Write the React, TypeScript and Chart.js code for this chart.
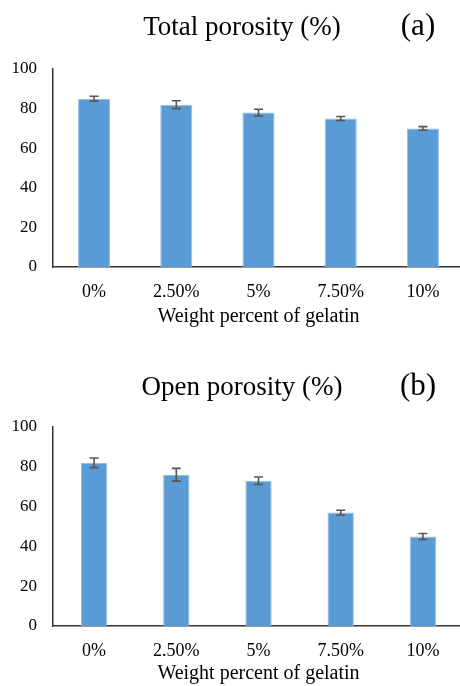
import React, { useEffect, useRef } from "react";
import { Chart, registerables } from "chart.js";

Chart.register(...registerables);

const categories = ["0%", "2.50%", "5%", "7.50%", "10%"];
const totalPorosity = [85, 82, 78, 75, 70];
const totalPorosityErr = [1.2, 2.0, 1.7, 1.0, 0.9];
const openPorosity = [82, 76, 73, 57, 45];
const openPorosityErr = [2.4, 3.2, 1.9, 1.2, 1.5];
const yTicks = [0, 20, 40, 60, 80, 100];

const FONT = "'Liberation Serif', 'Times New Roman', serif";

type Cfg = {
  values: number[];
  errors: number[];
  title: string;
  tag: string;
  height: number;
  padTop: number;
  xHeight: number;
  titleY: number;
  barPct: number;
};

function makeChart(canvas: HTMLCanvasElement, cfg: Cfg) {
  const errorBars = {
    id: "errorBars",
    afterDatasetsDraw(chart: any) {
      const ctx = chart.ctx;
      const meta = chart.getDatasetMeta(0);
      const y = chart.scales.y;
      ctx.save();
      ctx.strokeStyle = "#555555";
      ctx.lineWidth = 1.6;
      meta.data.forEach((bar: any, i: number) => {
        const v = cfg.values[i];
        const e = cfg.errors[i];
        const yt = y.getPixelForValue(v + e);
        const yb = y.getPixelForValue(v - e);
        const x = bar.x;
        ctx.beginPath();
        ctx.moveTo(x, yt);
        ctx.lineTo(x, yb);
        ctx.moveTo(x - 4.5, yt);
        ctx.lineTo(x + 4.5, yt);
        ctx.moveTo(x - 4.5, yb);
        ctx.lineTo(x + 4.5, yb);
        ctx.stroke();
      });
      ctx.restore();
    },
  };
  const titles = {
    id: "titles",
    afterDraw(chart: any) {
      const ctx = chart.ctx;
      ctx.save();
      ctx.fillStyle = "#000";
      ctx.textAlign = "center";
      ctx.textBaseline = "middle";
      ctx.font = `27px ${FONT}`;
      ctx.fillText(cfg.title, 242, cfg.titleY);
      ctx.font = `31px ${FONT}`;
      ctx.fillText(cfg.tag, 418, cfg.titleY - 1);
      ctx.restore();
    },
  };
  return new Chart(canvas, {
    type: "bar",
    data: {
      labels: categories,
      datasets: [
        {
          data: cfg.values,
          backgroundColor: "#5B9BD5",
          borderColor: "#8FBCE6",
          borderWidth: 1,
          barPercentage: cfg.barPct,
          categoryPercentage: 1,
        },
      ],
    },
    options: {
      animation: false,
      responsive: false,
      maintainAspectRatio: false,
      layout: { padding: { top: cfg.padTop, left: 0, right: 0, bottom: 0 } },
      plugins: {
        legend: { display: false },
        title: { display: false },
        tooltip: { enabled: false },
      },
      scales: {
        x: {
          grid: { display: false, drawTicks: false },
          border: { display: true, color: "#333333", width: 1.5 },
          ticks: {
            font: { family: FONT, size: 18 },
            color: "#000",
            padding: 14,
          },
          title: {
            display: true,
            text: "Weight percent of gelatin",
            font: { family: FONT, size: 20 },
            color: "#000",
            padding: { top: 0, bottom: 0 },
          },
          afterFit(scale: any) {
            scale.height = cfg.xHeight;
          },
        },
        y: {
          min: 0,
          max: 100,
          afterBuildTicks(scale: any) {
            scale.ticks = yTicks.map((v) => ({ value: v }));
          },
          grid: { display: false, drawTicks: false },
          border: { display: true, color: "#333333", width: 1.5 },
          ticks: {
            font: { family: FONT, size: 17 },
            color: "#000",
            padding: 16,
          },
          afterFit(scale: any) {
            scale.width = 53;
          },
        },
      },
    },
    plugins: [errorBars, titles],
  });
}

export default function App() {
  const refA = useRef<HTMLCanvasElement>(null);
  const refB = useRef<HTMLCanvasElement>(null);
  useEffect(() => {
    const a = makeChart(refA.current!, {
      values: totalPorosity,
      errors: totalPorosityErr,
      title: "Total porosity (%)",
      tag: "(a)",
      height: 329,
      padTop: 69,
      xHeight: 62,
      titleY: 28,
      barPct: 0.39,
    });
    const b = makeChart(refB.current!, {
      values: openPorosity,
      errors: openPorosityErr,
      title: "Open porosity (%)",
      tag: "(b)",
      height: 357,
      padTop: 98,
      xHeight: 60,
      titleY: 59,
      barPct: 0.32,
    });
    return () => {
      a.destroy();
      b.destroy();
    };
  }, []);
  return (
    <div
      style={{
        position: "fixed",
        left: 0,
        top: 0,
        width: 460,
        height: 686,
        overflow: "hidden",
        background: "#fff",
      }}
    >
      <canvas
        ref={refA}
        width={464}
        height={329}
        style={{ position: "absolute", left: 0, top: 0, width: 464, height: 329 }}
      />
      <canvas
        ref={refB}
        width={464}
        height={357}
        style={{ position: "absolute", left: 0, top: 329, width: 464, height: 357 }}
      />
    </div>
  );
}
